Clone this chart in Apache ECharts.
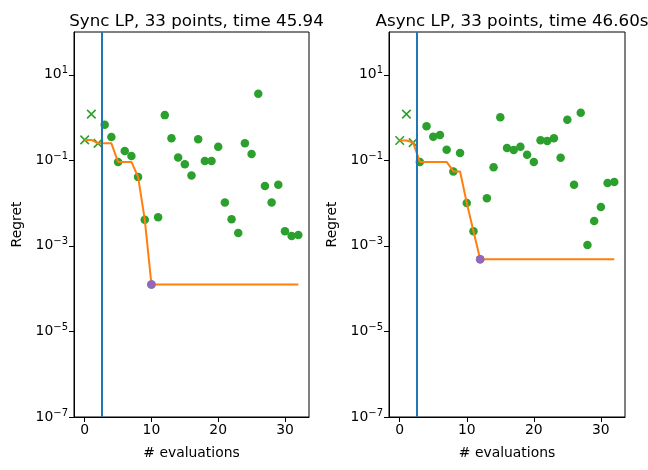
<!DOCTYPE html>
<html><head><meta charset="utf-8">
<script src="https://cdn.jsdelivr.net/npm/echarts@6/dist/echarts.min.js"></script>
<style>html,body{margin:0;padding:0;background:#fff}#c{width:648px;height:470px}</style>
</head><body><div id="c"></div>
<script>
// ---- data ----
const titles = ["Sync LP, 33 points, time 45.94", "Async LP, 33 points, time 46.60s"];
const xTicks = [0, 10, 20, 30];
const yTicks = [1e-7, 1e-5, 1e-3, 1e-1, 1e1];
const initIdx = [0, 1, 2];
const evalIdx = [3,4,5,6,7,8,9,10,11,12,13,14,15,16,17,18,19,20,21,22,23,24,25,26,27,28,29,30,31,32];
const allIdx = [0,1,2,3,4,5,6,7,8,9,10,11,12,13,14,15,16,17,18,19,20,21,22,23,24,25,26,27,28,29,30,31,32];
const initSplit = 2.5;

const syncInit = [0.30, 1.2, 0.25];
const syncVals = [0.68, 0.35, 0.092, 0.166, 0.126, 0.041, 0.0041, 1.25e-4, 0.0047, 1.14,
                  0.33, 0.117, 0.081, 0.044, 0.31, 0.096, 0.096, 0.207, 0.0104, 0.0042,
                  0.0020, 0.25, 0.14, 3.6, 0.025, 0.0104, 0.027, 0.0022, 0.0017, 0.0018];
const syncBestSoFar = [0.30, 0.30, 0.25, 0.25, 0.25, 0.092, 0.092, 0.092, 0.041, 0.0041,
                       1.25e-4, 1.25e-4, 1.25e-4, 1.25e-4, 1.25e-4, 1.25e-4, 1.25e-4, 1.25e-4, 1.25e-4, 1.25e-4,
                       1.25e-4, 1.25e-4, 1.25e-4, 1.25e-4, 1.25e-4, 1.25e-4, 1.25e-4, 1.25e-4, 1.25e-4, 1.25e-4,
                       1.25e-4, 1.25e-4, 1.25e-4];
const syncBest = [10, 1.25e-4];

const asyncInit = [0.29, 1.2, 0.26];
const asyncVals = [0.092, 0.63, 0.355, 0.39, 0.176, 0.055, 0.148, 0.0101, 0.0022, 4.9e-4,
                   0.013, 0.069, 1.02, 0.193, 0.174, 0.207, 0.135, 0.091, 0.295, 0.285,
                   0.33, 0.115, 0.885, 0.027, 1.29, 0.00105, 0.0038, 0.0081, 0.0296, 0.031];
const asyncBestSoFar = [0.29, 0.29, 0.26, 0.092, 0.092, 0.092, 0.092, 0.092, 0.055, 0.055,
                        0.0101, 0.0022, 4.9e-4, 4.9e-4, 4.9e-4, 4.9e-4, 4.9e-4, 4.9e-4, 4.9e-4, 4.9e-4,
                        4.9e-4, 4.9e-4, 4.9e-4, 4.9e-4, 4.9e-4, 4.9e-4, 4.9e-4, 4.9e-4, 4.9e-4, 4.9e-4,
                        4.9e-4, 4.9e-4, 4.9e-4];
const asyncBest = [12, 4.9e-4];

// ---- chart ----
const FONT = 'DejaVu Sans';
const panels = [
  {title: titles[0], init: syncInit, vals: syncVals, bsf: syncBestSoFar, best: syncBest, left: 74, width: 235},
  {title: titles[1], init: asyncInit, vals: asyncVals, bsf: asyncBestSoFar, best: asyncBest, left: 389, width: 236}
];
const zip = (xs, ys) => xs.map((x, i) => [x, ys[i]]);
const crossPath = 'path://M0,0L10,10M10,0L0,10';

const option = {
  animation: false,
  backgroundColor: '#fff',
  title: panels.map(p => ({
    text: p.title, left: p.left + p.width / 2, top: 8, textAlign: 'center',
    textStyle: {fontFamily: FONT, fontSize: 16.7, fontWeight: 'normal', color: '#000'}
  })),
  grid: panels.map(p => ({left: p.left, top: 32, width: p.width, height: 385, show: true,
    borderColor: '#000', borderWidth: 1, backgroundColor: 'transparent', containLabel: false})),
  xAxis: panels.map((p, g) => ({
    type: 'value', gridIndex: g, min: -1.6, max: 33.6,
    name: '# evaluations', nameLocation: 'middle', nameGap: 29,
    nameTextStyle: {fontFamily: FONT, fontSize: 13.9, color: '#000'},
    splitLine: {show: false},
    axisLine: {show: true, onZero: false, lineStyle: {color: '#000', width: 1}},
    axisTick: {show: true, customValues: xTicks, length: 5, lineStyle: {color: '#000'}},
    axisLabel: {customValues: xTicks, fontFamily: FONT, fontSize: 13.9, color: '#000', margin: 6}
  })),
  yAxis: panels.map((p, g) => ({
    type: 'log', logBase: 10, gridIndex: g, min: 1e-7, max: 100,
    name: 'Regret', nameLocation: 'middle', nameGap: 50,
    nameTextStyle: {fontFamily: FONT, fontSize: 13.9, color: '#000'},
    splitLine: {show: false},
    minorTick: {show: false},
    axisLine: {show: true, onZero: false, lineStyle: {color: '#000', width: 1}},
    axisTick: {show: true, customValues: yTicks, length: 5, lineStyle: {color: '#000'}},
    axisLabel: {customValues: yTicks, fontFamily: FONT, fontSize: 13.9, color: '#000', margin: 6,
      formatter: v => {
        const e = Math.round(Math.log10(v));
        return '{b|10}{s|' + (e < 0 ? '\u2212' + (-e) : e) + '}';
      },
      rich: {
        b: {fontFamily: FONT, fontSize: 13.9, color: '#000'},
        s: {fontFamily: FONT, fontSize: 10, color: '#000', padding: [0, 0, 8, 0]}
      }
    }
  })),
  series: []
};

panels.forEach((p, g) => {
  option.series.push({
    type: 'scatter', xAxisIndex: g, yAxisIndex: g, z: 2,
    data: zip(evalIdx, p.vals), symbol: 'circle', symbolSize: 8.5,
    itemStyle: {color: '#2ca02c', opacity: 1}
  });
  option.series.push({
    type: 'scatter', xAxisIndex: g, yAxisIndex: g, z: 2,
    data: zip(initIdx, p.init), symbol: crossPath, symbolSize: 8.5,
    itemStyle: {color: 'rgba(0,0,0,0)', borderColor: '#2ca02c', borderWidth: 1.6, opacity: 1}
  });
  option.series.push({
    type: 'line', xAxisIndex: g, yAxisIndex: g, z: 3,
    data: zip(allIdx, p.bsf), showSymbol: false, symbol: 'none',
    lineStyle: {color: '#ff7f0e', width: 2},
    markLine: {
      silent: true, symbol: 'none', label: {show: false},
      lineStyle: {color: '#1f77b4', width: 2, type: 'solid'},
      data: [{xAxis: initSplit}]
    }
  });
  option.series.push({
    type: 'scatter', xAxisIndex: g, yAxisIndex: g, z: 4,
    data: [p.best], symbol: 'circle', symbolSize: 8.5,
    itemStyle: {color: '#9467bd', opacity: 1}
  });
});

const chart = echarts.init(document.getElementById('c'), null, {renderer: 'canvas'});
chart.setOption(option);
</script>
</body></html>
